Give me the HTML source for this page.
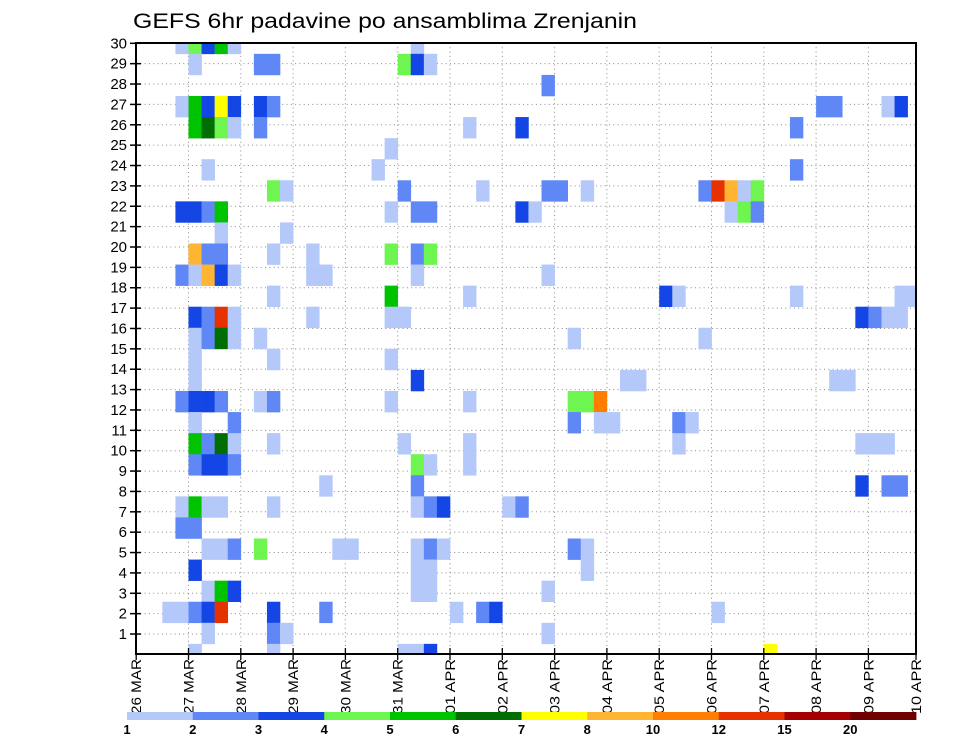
<!DOCTYPE html>
<html><head><meta charset="utf-8"><title>GEFS 6hr padavine</title>
<style>html,body{margin:0;padding:0;background:#fff;}svg{display:block;font-family:"Liberation Sans",sans-serif;}</style>
</head><body>
<svg id="chart" width="960" height="742" viewBox="0 0 960 742" xmlns="http://www.w3.org/2000/svg">
<text x="133" y="28" font-size="21" textLength="504" lengthAdjust="spacingAndGlyphs">GEFS 6hr padavine po ansamblima Zrenjanin</text>
<g id="grid"></g>
<g id="cells" clip-path="url(#plotclip)"></g>
<defs><clipPath id="plotclip"><rect x="136" y="43" width="780" height="611"/></clipPath></defs>
<rect x="136" y="43" width="780" height="611" fill="none" stroke="#000" stroke-width="2"/>
<g id="axes"></g>
<g id="legend"></g>
</svg>
<script>
// 6-hourly step index from 26 MAR 00z, ensemble member (1..30), colour class (1..12)
const cellStep = [3,4,5,6,7,21, 4,9,10,20,21,22, 31, 3,4,5,6,7,9,10,52,53,57,58, 4,5,6,7,9,25,29,50, 19, 5,18,50,
 10,11,20,26,31,32,34,43,44,45,46,47, 3,4,5,6,19,21,22,29,30,45,46,47, 6,11,
 4,5,6,10,13,19,21,22, 3,4,5,6,7,13,14,21,31, 10,19,25,40,41,50,58,59,
 4,5,6,7,13,19,20,55,56,57,58, 4,5,6,7,9,33,43,
 4,10,19, 4,21,37,38,53,54, 3,4,5,6,9,10,19,25,33,34,35, 4,7,33,35,36,41,42,
 4,5,6,7,10,20,25,41,55,56,57, 4,5,6,7,21,22,25, 14,21,55,57,58,
 3,4,5,6,10,21,22,23,28,29, 3,4, 5,6,7,9,15,16,21,22,23,33,34,
 4,21,22,34, 5,6,7,21,22,31, 2,3,4,5,6,10,14,24,26,27,44, 5,10,11,31, 4,10,20,21,22,48];
const cellMember = [30,30,30,30,30,30, 29,29,29,29,29,29, 28, 27,27,27,27,27,27,27,27,27,27,27, 26,26,26,26,26,26,26,26, 25, 24,24,24,
 23,23,23,23,23,23,23,23,23,23,23,23, 22,22,22,22,22,22,22,22,22,22,22,22, 21,21,
 20,20,20,20,20,20,20,20, 19,19,19,19,19,19,19,19,19, 18,18,18,18,18,18,18,18,
 17,17,17,17,17,17,17,17,17,17,17, 16,16,16,16,16,16,16,
 15,15,15, 14,14,14,14,14,14, 13,13,13,13,13,13,13,13,13,13,13, 12,12,12,12,12,12,12,
 11,11,11,11,11,11,11,11,11,11,11, 10,10,10,10,10,10,10, 9,9,9,9,9,
 8,8,8,8,8,8,8,8,8,8, 7,7, 6,6,6,6,6,6,6,6,6,6,6,
 5,5,5,5, 4,4,4,4,4,4, 3,3,3,3,3,3,3,3,3,3,3, 2,2,2,2, 1,1,1,1,1,1];
const cellClass = [1,4,3,5,1,1, 1,2,2,4,3,1, 2, 1,5,3,7,3,3,2,2,2,1,3, 5,6,4,1,2,1,3,2, 1, 1,1,2,
 4,1,2,1,2,2,1,2,10,8,1,4, 3,3,2,5,1,2,2,3,1,1,4,2, 1,1,
 8,2,2,1,1,4,2,4, 2,1,8,3,1,1,1,1,1, 1,5,1,3,1,1,1,1,
 3,2,10,1,1,1,1,3,2,1,1, 1,2,6,1,1,1,1,
 1,1,1, 1,3,1,1,1,1, 2,3,3,2,1,2,1,1,4,4,9, 1,2,2,1,1,2,1,
 5,2,6,1,1,1,1,1,1,1,1, 2,3,3,2,4,1,1, 1,2,3,2,2,
 1,5,1,1,1,1,2,3,1,2, 2,2, 1,1,2,4,1,1,1,2,1,2,1,
 3,1,1,1, 1,5,3,1,1,1, 1,1,2,3,10,3,2,1,2,3,1, 1,2,1,1, 1,1,1,1,3,7];
const classColors = ["#ffffff","#b4c8fa","#5f87f5","#1446e6","#6ef550","#00c300","#006e00","#ffff00","#ffb432","#ff7d00","#e63200","#a50000","#6e0000"];
const legendLabels = ["1","2","3","4","5","6","7","8","10","12","15","20"];
const dayLabels = ["26 MAR","27 MAR","28 MAR","29 MAR","30 MAR","31 MAR","01 APR","02 APR","03 APR","04 APR","05 APR","06 APR","07 APR","08 APR","09 APR","10 APR"];
const memberTicks = [1,2,3,4,5,6,7,8,9,10,11,12,13,14,15,16,17,18,19,20,21,22,23,24,25,26,27,28,29,30];

const NS = "http://www.w3.org/2000/svg";
const X0 = 136.2, DAY = 52.3, STEP = DAY/4, RIGHT = 916;
const TOP = 43.3, BOT = 654.4;
const TICK = (BOT-TOP)/30;       // axis label spacing
const CELL = (BOT-TOP)/29;       // data row spacing (members 1..30 across the plot)
function xStep(k){ return X0 + k*STEP; }
function xDay(d){ return Math.min(X0 + d*DAY, RIGHT); }
function yTick(t){ return BOT - t*TICK; }
function yCell(m){ return BOT - (m-1)*CELL; }
function mk(tag, attrs, parent){ const e=document.createElementNS(NS,tag); for(const k in attrs) e.setAttribute(k,attrs[k]); parent.appendChild(e); return e; }

const grid=document.getElementById('grid');
memberTicks.forEach(m=>{ if(m>=30) return;
  const l=mk('line',{x1:136,x2:916,y1:yTick(m),y2:yTick(m),stroke:"#8a8a8a","stroke-width":1,"stroke-dasharray":"1 3.3"},grid);
  
  
});
dayLabels.forEach((d,i)=>{ if(i===0||i===dayLabels.length-1) return;
  const l=mk('line',{x1:xDay(i),x2:xDay(i),y1:43,y2:654,stroke:"#8a8a8a","stroke-width":1,"stroke-dasharray":"1 3.3"},grid);
  
  
});

const cells=document.getElementById('cells');
cellStep.forEach((k,i)=>{
  const r=mk('rect',{x:xStep(k),y:yCell(cellMember[i])-CELL/2,width:STEP+0.3,height:CELL+0.3,fill:classColors[cellClass[i]]},cells);
  
  
});

const axes=document.getElementById('axes');
memberTicks.forEach(m=>{
  const t=mk('line',{x1:130,x2:141,y1:yTick(m),y2:yTick(m),stroke:"#000","stroke-width":1.5},axes);
  
  
  const tx=mk('text',{x:127,y:yTick(m)+5,"font-size":15,"text-anchor":"end"},axes);
  tx.textContent=String(m);
  
  
});
dayLabels.forEach((d,i)=>{
  const x=xDay(i);
  const t=mk('line',{x1:x,x2:x,y1:648,y2:660,stroke:"#000","stroke-width":1.3},axes);
  
  
  const tx=mk('text',{x:0,y:0,"font-size":14,transform:"translate("+(x+5)+",714) rotate(-90)",textLength:55,lengthAdjust:"spacingAndGlyphs"},axes);
  tx.textContent=d;
  
  
});

const legend=document.getElementById('legend');
const LX=127, LW=(916-127)/12;
legendLabels.forEach((lab,i)=>{
  const r=mk('rect',{x:LX+i*LW,y:712,width:LW+0.4,height:8,fill:classColors[i+1]},legend);
  
  
  const t=mk('text',{x:LX+i*LW,y:734,"font-size":13,"font-weight":"bold","text-anchor":"middle"},legend);
  t.textContent=lab;
  
  
});
</script>
</body></html>
